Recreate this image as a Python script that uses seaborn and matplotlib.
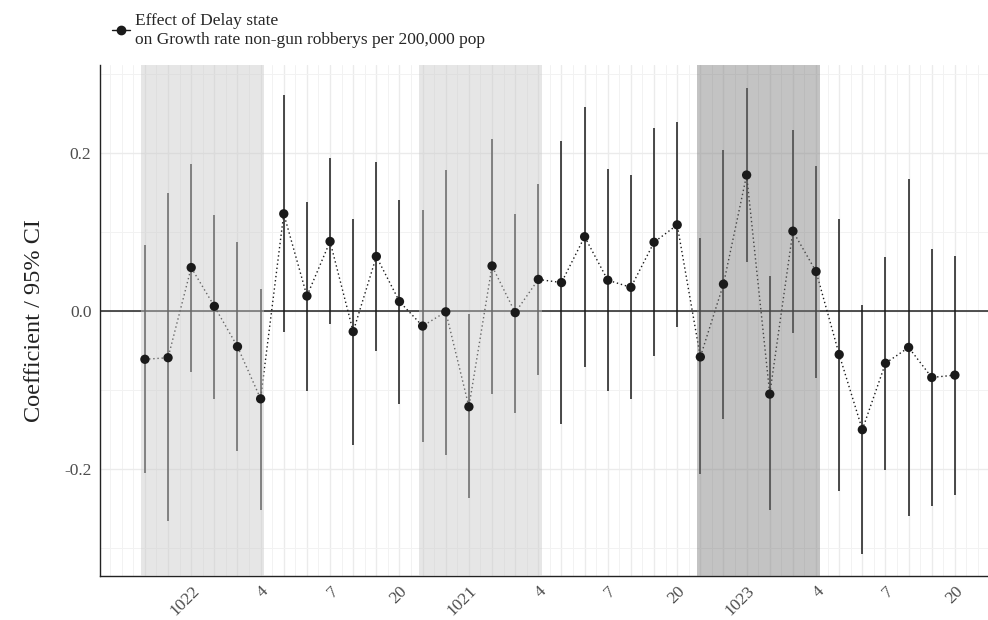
import numpy as np
import pandas as pd
import matplotlib
matplotlib.use('Agg')
import matplotlib.pyplot as plt
from matplotlib.lines import Line2D
from matplotlib.ticker import MultipleLocator
import seaborn as sns

# estimates per period and 95% CI bounds
period = list(range(36))
coef = [-0.061, -0.059, 0.055, 0.006, -0.045, -0.111, 0.123, 0.019, 0.088, -0.026, 0.069, 0.012,
        -0.019, -0.001, -0.121, 0.057, -0.002, 0.040, 0.036, 0.094, 0.039, 0.030, 0.087, 0.109,
        -0.058, 0.034, 0.172, -0.105, 0.101, 0.050, -0.055, -0.150, -0.066, -0.046, -0.084, -0.081]
lower = [-0.205, -0.265, -0.077, -0.111, -0.177, -0.252, -0.026, -0.101, -0.017, -0.169, -0.050, -0.117,
         -0.166, -0.182, -0.237, -0.105, -0.129, -0.081, -0.143, -0.071, -0.101, -0.111, -0.057, -0.020,
         -0.206, -0.136, 0.062, -0.252, -0.028, -0.085, -0.227, -0.307, -0.201, -0.259, -0.246, -0.232]
upper = [0.084, 0.149, 0.186, 0.122, 0.087, 0.028, 0.273, 0.138, 0.193, 0.116, 0.188, 0.141,
         0.128, 0.178, -0.004, 0.217, 0.123, 0.161, 0.215, 0.258, 0.179, 0.172, 0.231, 0.239,
         0.092, 0.204, 0.282, 0.044, 0.229, 0.183, 0.116, 0.008, 0.068, 0.167, 0.079, 0.069]
tick_labels = ['', '', '1022', '', '', '4', '', '', '7', '', '', '20',
               '', '', '1021', '', '', '4', '', '', '7', '', '', '20',
               '', '', '1023', '', '', '4', '', '', '7', '', '', '20']
# shaded windows (start, end, fill)
windows = [(-0.15, 5.15, '#c8c8c8'), (11.85, 17.15, '#c8c8c8'), (23.85, 29.15, '#7a7a7a')]

df = pd.DataFrame({'period': period, 'coef': coef, 'lower': lower, 'upper': upper})

sns.set_theme(style="whitegrid")
plt.rcParams['font.family'] = ['Liberation Serif', 'DejaVu Serif']

fig = plt.figure(figsize=(9.88, 6.2), dpi=100)
ax = fig.add_axes([0.101, 0.071, 0.899, 0.824])

# grid
ax.xaxis.set_major_locator(MultipleLocator(1))
ax.xaxis.set_minor_locator(MultipleLocator(0.5))
ax.yaxis.set_major_locator(MultipleLocator(0.2))
ax.yaxis.set_minor_locator(MultipleLocator(0.1))
ax.grid(which='major', color='#ebebeb', linewidth=1.0)
ax.grid(which='minor', color='#f2f2f2', linewidth=0.7)
ax.set_axisbelow(True)

ax.axhline(0, color='#222222', linewidth=1.1, zorder=1)

ax.vlines(df['period'], df['lower'], df['upper'], color='#1a1a1a', linewidth=1.1, zorder=2)
sns.lineplot(data=df, x='period', y='coef', color='#1a1a1a', linewidth=1.0,
             linestyle=(0, (1, 2)), ax=ax, zorder=2)

for start, end, fill in windows:
    ax.axvspan(start, end, color=fill, alpha=0.45, linewidth=0, zorder=3)

sns.scatterplot(data=df, x='period', y='coef', color='#1a1a1a', s=45, edgecolor='none',
                ax=ax, zorder=4, legend=False)

ax.set_xlim(-1.95, 36.43)
ax.set_ylim(-0.335, 0.311)
ax.set_xticks(period)
ax.set_xticklabels(tick_labels, rotation=45, ha='right', rotation_mode='anchor',
                   fontsize=12.5, color='#4d4d4d')
ax.set_yticks([-0.2, 0.0, 0.2])
ax.set_yticklabels(['-0.2', '0.0', '0.2'], fontsize=12.5, color='#4d4d4d')
ax.tick_params(axis='both', which='major', length=4, width=0.8, color='#333333', pad=2)
ax.tick_params(axis='x', which='major', pad=1)
ax.tick_params(axis='both', which='minor', length=0)
ax.set_xlabel('')
ax.set_ylabel('Coefficient / 95% CI', fontsize=17.5, color='#222222', labelpad=14)

for side in ['top', 'right']:
    ax.spines[side].set_visible(False)
for side in ['left', 'bottom']:
    ax.spines[side].set_visible(True)
    ax.spines[side].set_color('#222222')
    ax.spines[side].set_linewidth(1.0)

handle = Line2D([0], [0], color='#1a1a1a', marker='o', markersize=6, linewidth=1.0)
leg = fig.legend([handle], ['Effect of Delay state\non Growth rate non-gun robberys per 200,000 pop'],
                 loc='upper left', bbox_to_anchor=(0.098, 1.005), frameon=False, fontsize=12.5,
                 handlelength=1.0, handletextpad=0.3, labelspacing=0)
leg.get_texts()[0].set_linespacing(1.3)

fig.savefig('out.png', dpi=100)
